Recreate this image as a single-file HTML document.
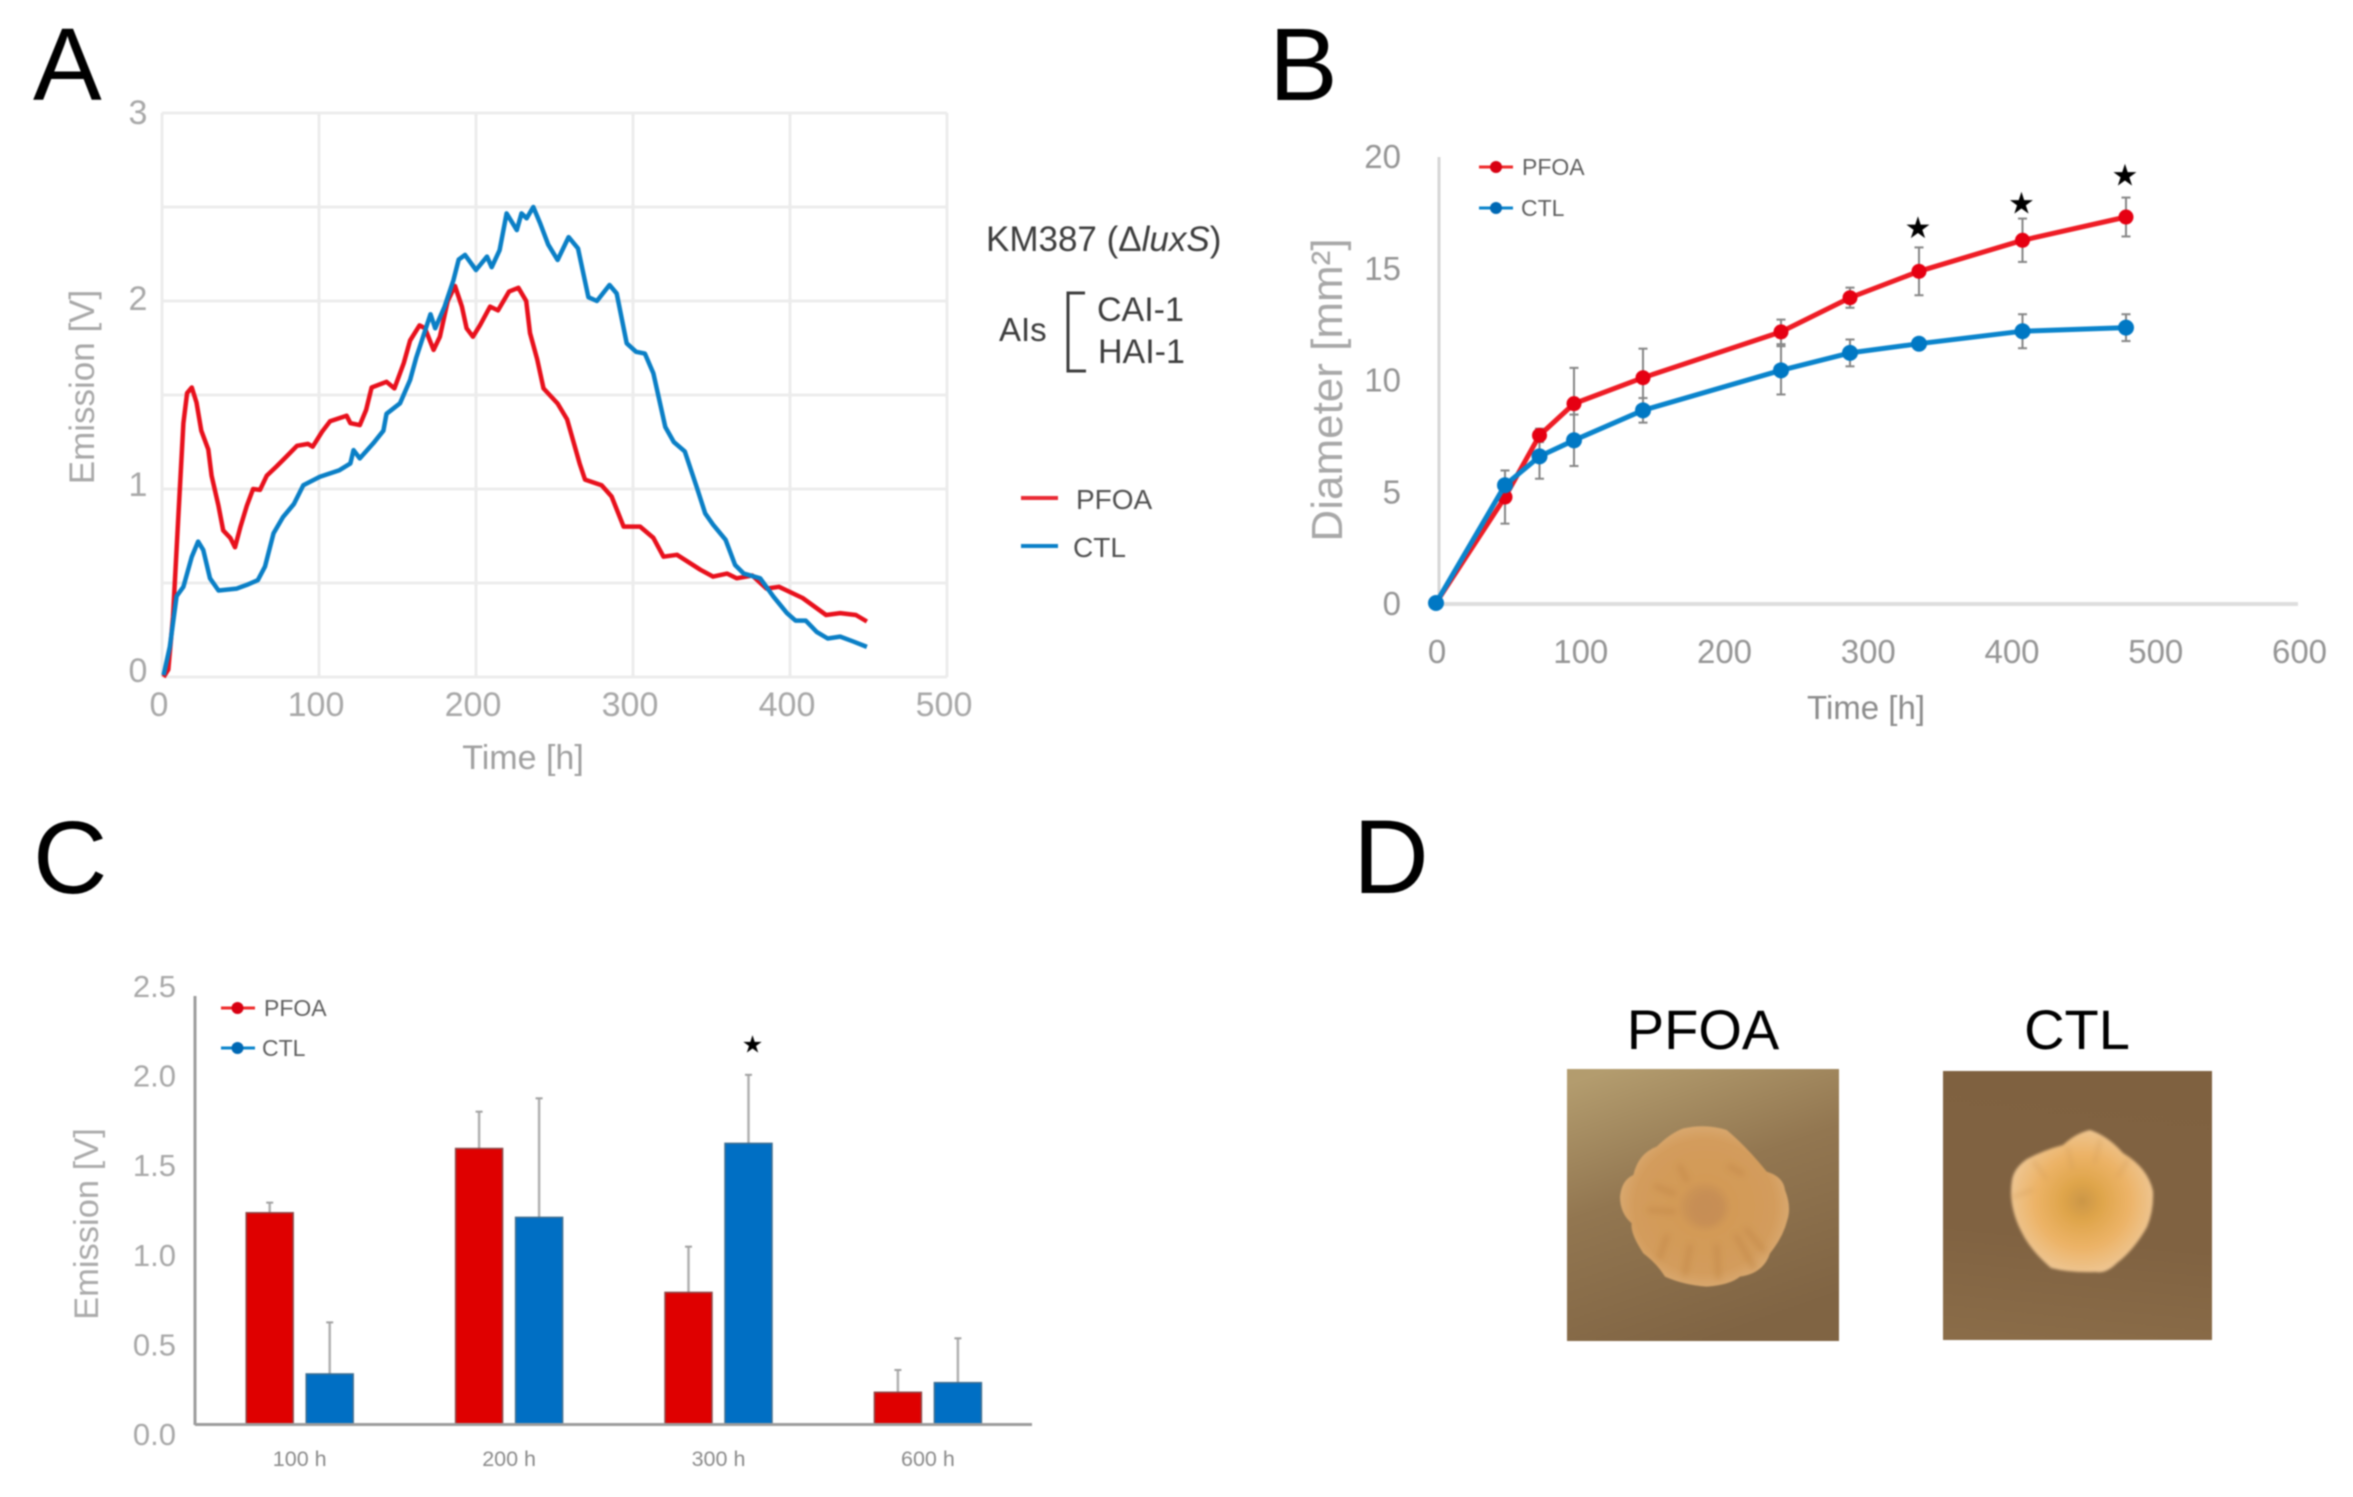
<!DOCTYPE html>
<html lang="en">
<head>
<meta charset="utf-8">
<title>PFOA and CTL emission and colony growth</title>
<style>
html,body{margin:0;padding:0;background:#fff;}
svg{display:block;filter:blur(.9px);font-family:"Liberation Sans",sans-serif;}
</style>
</head>
<body>
<svg id="figure" xmlns="http://www.w3.org/2000/svg" width="2353" height="1497" viewBox="0 0 2353 1497">
<defs>
  <linearGradient id="plate1" x1="0.15" y1="0" x2="0.5" y2="1">
    <stop offset="0" stop-color="#b39c6e"/><stop offset=".45" stop-color="#927650"/><stop offset="1" stop-color="#806443"/>
  </linearGradient>
  <linearGradient id="plate2" x1="0.3" y1="0" x2="0.2" y2="1">
    <stop offset="0" stop-color="#7f6140"/><stop offset=".6" stop-color="#806241"/><stop offset="1" stop-color="#8a6c48"/>
  </linearGradient>
  <radialGradient id="colony1" cx=".5" cy=".5" r=".55">
    <stop offset="0" stop-color="#c8925a"/><stop offset=".2" stop-color="#cb9355"/><stop offset=".3" stop-color="#d39a57"/><stop offset=".75" stop-color="#d39c5c"/><stop offset="1" stop-color="#dcae78"/>
  </radialGradient>
  <radialGradient id="colony2" cx=".5" cy=".5" r=".55">
    <stop offset="0" stop-color="#cb9646"/><stop offset=".25" stop-color="#dfa54b"/><stop offset=".6" stop-color="#ecb367"/><stop offset="1" stop-color="#eec99a"/>
  </radialGradient>
  <filter id="soft" x="-10%" y="-10%" width="120%" height="120%"><feGaussianBlur stdDeviation="1.2"/></filter>
  <filter id="softer" x="-20%" y="-20%" width="140%" height="140%"><feGaussianBlur stdDeviation="9"/></filter>
  <filter id="softRidge" x="-20%" y="-20%" width="140%" height="140%"><feGaussianBlur stdDeviation="2.5"/></filter>
</defs>

<!-- Panel letters -->
<text x="33" y="100" font-size="103" fill="#000">A</text>
<text x="1269" y="100" font-size="103" fill="#000">B</text>
<text x="33" y="893" font-size="103" fill="#000">C</text>
<text x="1353" y="893" font-size="105" fill="#000">D</text>

<!-- Panel A -->
<g id="panelA">
  <g id="aGrid"></g>
  <g id="aTicks" font-size="34" fill="#a8a8a8" text-anchor="middle"></g>
  <text transform="translate(94 387) rotate(-90)" text-anchor="middle" font-size="35" fill="#a8a8a8">Emission  [V]</text>
  <text x="523" y="769" text-anchor="middle" font-size="34" fill="#a0a0a0">Time [h]</text>
  <g id="aSeries"></g>
  <text x="986" y="251" font-size="35" fill="#3c3c3c">KM387 (Δ<tspan font-style="italic">luxS</tspan>)</text>
  <text x="999" y="341" font-size="33" fill="#3c3c3c">AIs</text>
  <path d="M1085 293H1068V371H1086" fill="none" stroke="#3c3c3c" stroke-width="3"/>
  <text x="1097" y="321" font-size="34" fill="#3c3c3c">CAI-1</text>
  <text x="1098" y="363" font-size="34" fill="#3c3c3c">HAI-1</text>
  <g>
    <line x1="1021" y1="498" x2="1058" y2="498" stroke="#ea2a34" stroke-width="4"/>
    <text x="1076" y="509" font-size="28" fill="#505050">PFOA</text>
    <line x1="1021" y1="546" x2="1058" y2="546" stroke="#0a80c8" stroke-width="4"/>
    <text x="1073" y="557" font-size="28" fill="#505050">CTL</text>
  </g>
</g>

<!-- Panel B -->
<g id="panelB">
  <line x1="1439" y1="157" x2="1439" y2="604" stroke="#d6d6d6" stroke-width="3"/>
  <line x1="1439" y1="604" x2="2298" y2="604" stroke="#dedede" stroke-width="4"/>
  <g id="bTicks" font-size="33" fill="#959595"></g>
  <text transform="translate(1342 390) rotate(-90)" text-anchor="middle" font-size="44" fill="#a8a8a8">Diameter [mm²]</text>
  <text x="1866" y="719" text-anchor="middle" font-size="33" fill="#8c8c8c">Time [h]</text>
  <g id="bSeries"></g>
  <g>
    <line x1="1479" y1="167" x2="1513" y2="167" stroke="#ee2a2a" stroke-width="3"/>
    <circle cx="1496" cy="167" r="6" fill="#d80012"/>
    <text x="1522" y="175" font-size="23" fill="#606060">PFOA</text>
    <line x1="1479" y1="208" x2="1513" y2="208" stroke="#0a84cc" stroke-width="3"/>
    <circle cx="1496" cy="208" r="6" fill="#0068b4"/>
    <text x="1521" y="216" font-size="23" fill="#606060">CTL</text>
  </g>
</g>

<!-- Panel C -->
<g id="panelC">
  <g id="cTicks"></g>
  <text transform="translate(98 1224) rotate(-90)" text-anchor="middle" font-size="34.5" fill="#ababab">Emission  [V]</text>
  <g id="cSeries"></g>
  <line x1="195" y1="996" x2="195" y2="1425" stroke="#9c9c9c" stroke-width="3"/>
  <line x1="195" y1="1424.5" x2="1032" y2="1424.5" stroke="#9c9c9c" stroke-width="3"/>
  <g>
    <line x1="221" y1="1008" x2="255" y2="1008" stroke="#ee2a2a" stroke-width="3"/>
    <circle cx="237.500" cy="1008" r="6" fill="#d80012"/>
    <text x="264" y="1016" font-size="23" fill="#606060">PFOA</text>
    <line x1="221" y1="1048" x2="255" y2="1048" stroke="#0a84cc" stroke-width="3"/>
    <circle cx="237.500" cy="1048" r="6" fill="#0068b4"/>
    <text x="262" y="1056" font-size="23" fill="#606060">CTL</text>
  </g>
</g>

<!-- Panel D -->
<g>
  <text x="1703" y="1049" text-anchor="middle" font-size="56" fill="#000">PFOA</text>
  <text x="2077" y="1049" text-anchor="middle" font-size="56" fill="#000">CTL</text>
  <g>
    <rect x="1567" y="1069" width="272" height="272" fill="url(#plate1)"/>
    <g transform="translate(1550 990) scale(.33333)" filter="url(#soft)">
      <path fill="url(#colony1)" d="M400 415Q470 400 530 420Q590 470 650 545Q700 560 705 600Q725 650 712 690Q700 740 660 790Q640 850 570 860Q540 885 470 890Q400 885 345 860Q320 820 280 790Q240 730 245 700Q210 670 210 620Q215 570 250 555Q265 490 320 470Q360 430 400 415Z"/>
      <circle cx="470" cy="655" r="52" fill="#c58b52" opacity=".55" filter="url(#softer)"/>
      <g fill="none" stroke="#bd8240" stroke-width="18" stroke-linecap="round" opacity=".4" filter="url(#softer)">
        <path d="M390 530L410 570M300 660L370 665M540 530L575 550M320 590L370 610M420 770L405 850M500 770L505 860M560 740L610 830M590 720L640 780M350 740L330 800"/>
      </g>
    </g>
  </g>
  <g>
    <rect x="1943" y="1071" width="269" height="269" fill="url(#plate2)"/>
    <g filter="url(#soft)">
      <path fill="url(#colony2)" d="M2090 1130Q2108 1136 2123 1153Q2148 1168 2153 1191Q2154 1210 2147 1227Q2134 1250 2117 1263Q2106 1274 2096 1272Q2070 1273 2051 1268Q2030 1250 2021 1231Q2008 1205 2012 1180Q2014 1168 2027 1159Q2044 1150 2063 1145Q2076 1133 2090 1130Z"/>
      <g fill="none" stroke="#cf9a58" stroke-width="3" stroke-linecap="round" opacity=".45" filter="url(#softRidge)">
        <path d="M2013 1197L2032 1190M2034 1162L2046 1178M2100 1140L2095 1162M2128 1160L2118 1176M2068 1148L2072 1168"/>
      </g>
    </g>
  </g>
</g>

<script>
// ---- Panel A data ----
const aXTicks = [0, 100, 200, 300, 400, 500];
const aYTicks = [0, 1, 2, 3];
const aGridY = [0, 0.5, 1, 1.5, 2, 2.5, 3];
const aPfoaTime = [1,4,7,10.4,13.6,16,19,22,25,29.5,31.6,36,39,43.5,46.5,50,54,58,62.4,66.7,73,79,86,93,96,102,107,117.6,120,126,130,133.5,143,148,154,158,164,167.5,173,177,182,186.6,191,194,198,202.5,209,214,221,227,232,234.4,239,243,252,258,266,269.4,280,286.4,294,304.5,313,319.4,328,343,351,360,366,376,385,393,408,423,432,442,449];
const aPfoaValue = [0,.04,.32,.85,1.35,1.51,1.54,1.46,1.31,1.21,1.07,.91,.78,.74,.69,.80,.91,1.0,.995,1.07,1.12,1.17,1.23,1.24,1.225,1.305,1.36,1.39,1.35,1.34,1.42,1.54,1.57,1.535,1.67,1.79,1.87,1.855,1.74,1.81,2.0,2.08,1.97,1.855,1.81,1.87,1.97,1.95,2.05,2.07,2.0,1.83,1.69,1.535,1.455,1.37,1.136,1.05,1.02,.96,.80,.80,.74,.64,.65,.57,.534,.55,.525,.54,.47,.48,.42,.33,.34,.33,.295];
const aCtlTime = [1,5,9.3,13.6,19,23,26.3,30.6,36,47.5,54,61,65.6,71,77,84,90,100.6,113,120,122,126,134.6,141,143,151.6,158,162,171,174,180,185.6,189,193,200,207,210,215,219.5,226,229,232.3,236.5,241,246,252,259,265,271.6,277,285,289.6,296,302,307.6,313,320.6,326,333,340.6,346,351,359,365,370.6,381,389.5,398,403.5,410,417,424,432,440,449];
const aCtlValue = [.01,.16,.43,.48,.64,.72,.675,.525,.46,.47,.49,.515,.587,.764,.85,.92,1.02,1.065,1.10,1.136,1.207,1.163,1.243,1.31,1.40,1.456,1.58,1.70,1.93,1.855,1.97,2.11,2.22,2.245,2.165,2.236,2.18,2.27,2.466,2.377,2.466,2.44,2.50,2.41,2.30,2.218,2.34,2.28,2.02,2.0,2.085,2.04,1.775,1.73,1.72,1.615,1.33,1.25,1.2,1.01,.87,.81,.73,.596,.55,.525,.427,.34,.30,.30,.24,.205,.215,.19,.16];

// ---- Panel B data ----
const bXTicks = [0, 100, 200, 300, 400, 500, 600];
const bYTicks = [0, 5, 10, 15, 20];
const bTimes = [0, 48, 72, 96, 144, 240, 288, 336, 408, 480];
const bPfoa = [0, 4.74, 7.5, 8.92, 10.08, 12.13, 13.66, 14.84, 16.23, 17.27];
const bPfoaErr = [0, 1.19, .3, 1.6, 1.3, .55, .45, 1.07, .97, .87];
const bCtl = [0, 5.27, 6.56, 7.28, 8.62, 10.41, 11.19, 11.6, 12.16, 12.32];
const bCtlErr = [0, .66, 1.0, 1.15, .55, 1.08, .6, .15, .76, .6];
const bStarTimes = [336, 408, 480];
const bStarValues = [16.8, 17.9, 19.15];

// ---- Panel C data ----
const cTickLabels = ['0.0', '0.5', '1.0', '1.5', '2.0', '2.5'];
const cCategories = ['100 h', '200 h', '300 h', '600 h'];
const cPfoa = [1.235, 1.61, .77, .187];
const cPfoaTop = [1.294, 1.825, 1.037, .317];
const cCtl = [.294, 1.208, 1.64, .243];
const cCtlTop = [.595, 1.903, 2.04, .502];
const cStarCategory = [2];
const cStarValues = [2.22];

// ---- Scales ----
const aX = t => 162 + 1.57 * t;
const aY = v => 677 - 188 * v;
const aTickY = v => 682 - 186 * v;
const bX = t => 1436 + 1.4375 * t;
const bY = v => 603 - 22.35 * v;
const cBand = i => 299.7 + 209.4 * i;
const cY = v => 1424.3 - 171.3 * v;
const cTickY = v => 1434 - 179.2 * v;

const NS = 'http://www.w3.org/2000/svg';
function mk(tag, attrs, parent, text) {
  const e = document.createElementNS(NS, tag);
  for (const k in attrs) e.setAttribute(k, attrs[k]);
  if (text !== undefined) e.textContent = text;
  parent.appendChild(e);
  return e;
}
const aGrid = document.getElementById('aGrid');
const aTicks = document.getElementById('aTicks');
const aSeries = document.getElementById('aSeries');
const bTicks = document.getElementById('bTicks');
const bSeries = document.getElementById('bSeries');
const cTicks = document.getElementById('cTicks');
const cSeries = document.getElementById('cSeries');

// Panel A
aXTicks.forEach(t => {
  const g = mk('line', {x1: aX(t), x2: aX(t), y1: aY(3), y2: aY(0), stroke: '#ececec', 'stroke-width': 3}, aGrid);
  
  
  const l = mk('text', {x: aX(t) - 3, y: 716}, aTicks, String(t));
  
  
});
aGridY.forEach(v => {
  const g = mk('line', {x1: aX(0), x2: aX(500), y1: aY(v), y2: aY(v), stroke: '#ececec', 'stroke-width': 3}, aGrid);
  
  
});
aYTicks.forEach(v => {
  const l = mk('text', {x: 138, y: aTickY(v)}, aTicks, String(v));
  
  
});
function pts(xs, ys, fx, fy) { return xs.map((x, i) => fx(x).toFixed(1) + ',' + fy(ys[i]).toFixed(1)).join(' '); }
const aLineP = mk('polyline', {points: pts(aPfoaTime, aPfoaValue, aX, aY), fill: 'none', stroke: '#e8101c', 'stroke-width': 4.5, 'stroke-linejoin': 'round'}, aSeries);


const aLineC = mk('polyline', {points: pts(aCtlTime, aCtlValue, aX, aY), fill: 'none', stroke: '#0a7fc6', 'stroke-width': 4.5, 'stroke-linejoin': 'round'}, aSeries);



// Panel B
bXTicks.forEach(t => {
  const l = mk('text', {x: bX(t) + 1, y: 663, 'text-anchor': 'middle'}, bTicks, String(t));
  
  
});
bYTicks.forEach(v => {
  const l = mk('text', {x: 1401, y: bY(v) + 12, 'text-anchor': 'end'}, bTicks, String(v));
  
  
});
function bErrors(vals, errs) {
  bTimes.forEach((t, i) => {
    if (!errs[i]) return;
    const x = bX(t);
    const s = mk('line', {x1: x, x2: x, y1: bY(vals[i] + errs[i]), y2: bY(vals[i] - errs[i]), stroke: '#858585', 'stroke-width': 2}, bSeries);
    
    
    [1, -1].forEach(d => {
      const y = bY(vals[i] + d * errs[i]);
      const c = mk('line', {x1: x - 4.5, x2: x + 4.5, y1: y, y2: y, stroke: '#858585', 'stroke-width': 2}, bSeries);
      
      
    });
  });
}
bErrors(bPfoa, bPfoaErr);
bErrors(bCtl, bCtlErr);
function bLine(vals, lineColor, markerColor, name, radius) {
  const p = mk('polyline', {points: pts(bTimes, vals, bX, bY), fill: 'none', stroke: lineColor, 'stroke-width': 5, 'stroke-linejoin': 'round'}, bSeries);
  
  
  bTimes.forEach((t, i) => {
    const m = mk('circle', {cx: bX(t), cy: bY(vals[i]), r: radius, fill: markerColor}, bSeries);
    
    
  });
}
bLine(bPfoa, '#ee1c25', '#e60012', 'pfoa', 7.5);
bLine(bCtl, '#0a84cc', '#0078c4', 'ctl', 8);
bStarTimes.forEach((t, i) => {
  const s = mk('text', {x: bX(t) - 1, y: bY(bStarValues[i]) + 10.5, 'text-anchor': 'middle', 'font-size': 30, 'font-family': '"DejaVu Sans",sans-serif', fill: '#000'}, bSeries, '★');
  
  
});

// Panel C
cTickLabels.forEach((lab, i) => {
  const l = mk('text', {x: 176, y: cTickY(parseFloat(lab)) + 11, 'text-anchor': 'end', 'font-size': 31, fill: '#a8a8a8'}, cTicks, lab);
  
  
});
cCategories.forEach((cat, i) => {
  const l = mk('text', {x: cBand(i), y: 1466, 'text-anchor': 'middle', 'font-size': 21.5, fill: '#8a8a8a'}, cTicks, cat);
  
  
});
function cBars(vals, tops, offset, fill, edge, name) {
  cCategories.forEach((cat, i) => {
    const cx = cBand(i) + offset;
    const e = mk('line', {x1: cx, x2: cx, y1: cY(tops[i]), y2: cY(vals[i]), stroke: '#b0b0b0', 'stroke-width': 2.5}, cSeries);
    
    
    const c = mk('line', {x1: cx - 3.5, x2: cx + 3.5, y1: cY(tops[i]), y2: cY(tops[i]), stroke: '#a0a0a0', 'stroke-width': 2}, cSeries);
    
    
    const b = mk('rect', {x: cx - 23.5, y: cY(vals[i]), width: 47, height: cY(0) - cY(vals[i]), fill: fill, stroke: edge, 'stroke-width': 1.5}, cSeries);
    
    
  });
}
cBars(cPfoa, cPfoaTop, -30, '#df0000', '#8e4a4a', 'pfoa');
cBars(cCtl, cCtlTop, 30, '#006fc4', '#3f6e90', 'ctl');
cStarCategory.forEach((idx, i) => {
  const s = mk('text', {x: cBand(idx) + 34, y: cY(cStarValues[i]) + 8.5, 'text-anchor': 'middle', 'font-size': 24, 'font-family': '"DejaVu Sans",sans-serif', fill: '#000'}, cSeries, '★');
  
  
});
</script>
</svg>
</body>
</html>
